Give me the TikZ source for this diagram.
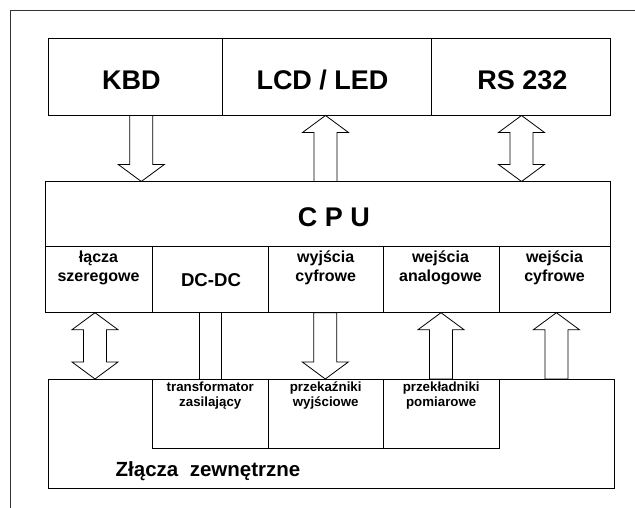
\documentclass[tikz,border=0pt]{standalone}
\usepackage{fontspec}
\setmainfont{Liberation Sans}
\tikzset{
  box/.style={draw, rectangle, inner sep=0pt, line width=0.8pt},
  bigl/.style={inner sep=0pt, anchor=base, font=\fontsize{27}{30}\selectfont\bfseries},
  subl/.style={inner sep=0pt, anchor=north, align=center, font=\fontsize{16}{18.7}\selectfont\bfseries},
  smalll/.style={inner sep=0pt, anchor=north, align=center, font=\fontsize{13.3}{15}\selectfont\bfseries},
  barrow/.style={draw, line width=0.8pt, line join=miter},
}
\newcommand\BoxAt[5]{\node[box, minimum width={#4-#2}, minimum height={#5-#3}] (#1) at ({(#2+#4)/2},{(#3+#5)/2}) {};}
% block arrows: centre x, top y, bottom y (y grows downwards)
\newcommand\BArrowDown[3]{\draw[barrow] ({#1-11.5},#2) -- ({#1-11.5},{#3-17}) -- ({#1-23},{#3-17}) -- (#1,#3) -- ({#1+23},{#3-17}) -- ({#1+11.5},{#3-17}) -- ({#1+11.5},#2) -- cycle;}
\newcommand\BArrowUp[3]{\draw[barrow] ({#1-11.5},#3) -- ({#1-11.5},{#2+17}) -- ({#1-23},{#2+17}) -- (#1,#2) -- ({#1+23},{#2+17}) -- ({#1+11.5},{#2+17}) -- ({#1+11.5},#3) -- cycle;}
\newcommand\BArrowBoth[3]{\draw[barrow] ({#1-11.5},{#3-17}) -- ({#1-11.5},{#2+17}) -- ({#1-23},{#2+17}) -- (#1,#2) -- ({#1+23},{#2+17}) -- ({#1+11.5},{#2+17}) -- ({#1+11.5},{#3-17}) -- ({#1+23},{#3-17}) -- (#1,#3) -- ({#1-23},{#3-17}) -- cycle;}
\begin{document}
\begin{tikzpicture}[x=1pt,y=-1pt]
\useasboundingbox (0,0) rectangle (635,508);
% outer frame (partly outside the page)
\coordinate (fbl) at (10,508);
\coordinate (ftl) at (10,10);
\coordinate (ftr) at (635,10);
\draw[line width=0.9pt, black!80] (fbl) -- (ftl) -- (ftr);
% top row
\BoxAt{kbd}{48.5}{38.5}{222}{115.5}
\BoxAt{lcd}{222}{38.5}{431.7}{115.5}
\BoxAt{rs}{431.7}{38.5}{610}{115.5}
\node[bigl] (kbdt) at (131.3,89.3) {KBD};
\node[bigl] (lcdt) at (322.5,89.3) {LCD / LED};
\node[bigl] (rst) at (522.5,89.3) {RS 232};
% CPU
\BoxAt{cpu}{45}{181.5}{610}{246.7}
\node[bigl] (cput) at (334,226.7) {C P U};
\BoxAt{lacz}{45}{246.7}{152.7}{312.7}
\BoxAt{dcdc}{152.7}{246.7}{268}{312.7}
\BoxAt{wyjc}{268}{246.7}{383.3}{312.7}
\BoxAt{weja}{383.3}{246.7}{499}{312.7}
\BoxAt{wejc}{499}{246.7}{610}{312.7}
\node[subl] (lacz t) at (98.5,250.3) {\rule{0pt}{12pt}łącza\\szeregowe};
\node[inner sep=0pt, anchor=base, font=\fontsize{18.6}{20}\selectfont\bfseries] (dcdct) at (211,286.7) {DC-DC};
\node[subl] (wyjct) at (325.7,250.3) {\rule{0pt}{12pt}wyjścia\\cyfrowe};
\node[subl] (wejat) at (440.5,250.3) {\rule{0pt}{12pt}wejścia\\analogowe};
\node[subl] (wejct) at (554.5,250.3) {\rule{0pt}{12pt}wejścia\\cyfrowe};
% bottom
\BoxAt{zl}{48.5}{379}{614}{488.3}
\BoxAt{trans}{152.7}{379}{268}{448.3}
\BoxAt{przek}{268}{379}{383.3}{448.3}
\BoxAt{przekl}{383.3}{379}{499}{448.3}
\node[smalll] (transt) at (210.3,381.7) {\rule{0pt}{10pt}transformator\\zasilający};
\node[smalll] (przekt) at (325.7,381.7) {\rule{0pt}{10pt}przekaźniki\\wyjściowe};
\node[smalll] (przeklt) at (441.2,381.7) {\rule{0pt}{10pt}przekładniki\\pomiarowe};
\node[inner sep=0pt, anchor=base, font=\fontsize{20.5}{23}\selectfont\bfseries] (zlt) at (208,476.7) {Złącza\ \ zewnętrzne};
% arrows
\BArrowDown{141.3}{115.5}{181.5}
\BArrowUp{325.5}{115.5}{181.5}
\BArrowBoth{521.5}{115.5}{181.5}
\BArrowBoth{95}{312.7}{379}
\coordinate (dc1a) at (199.3,312.7); \coordinate (dc1b) at (199.3,379);
\coordinate (dc2a) at (221.7,312.7); \coordinate (dc2b) at (221.7,379);
\draw[line width=0.8pt] (dc1a) -- (dc1b);
\draw[line width=0.8pt] (dc2a) -- (dc2b);
\BArrowDown{325.3}{312.7}{379}
\BArrowUp{441}{312.7}{379}
\BArrowUp{556.4}{312.7}{379}
\end{tikzpicture}
\end{document}
